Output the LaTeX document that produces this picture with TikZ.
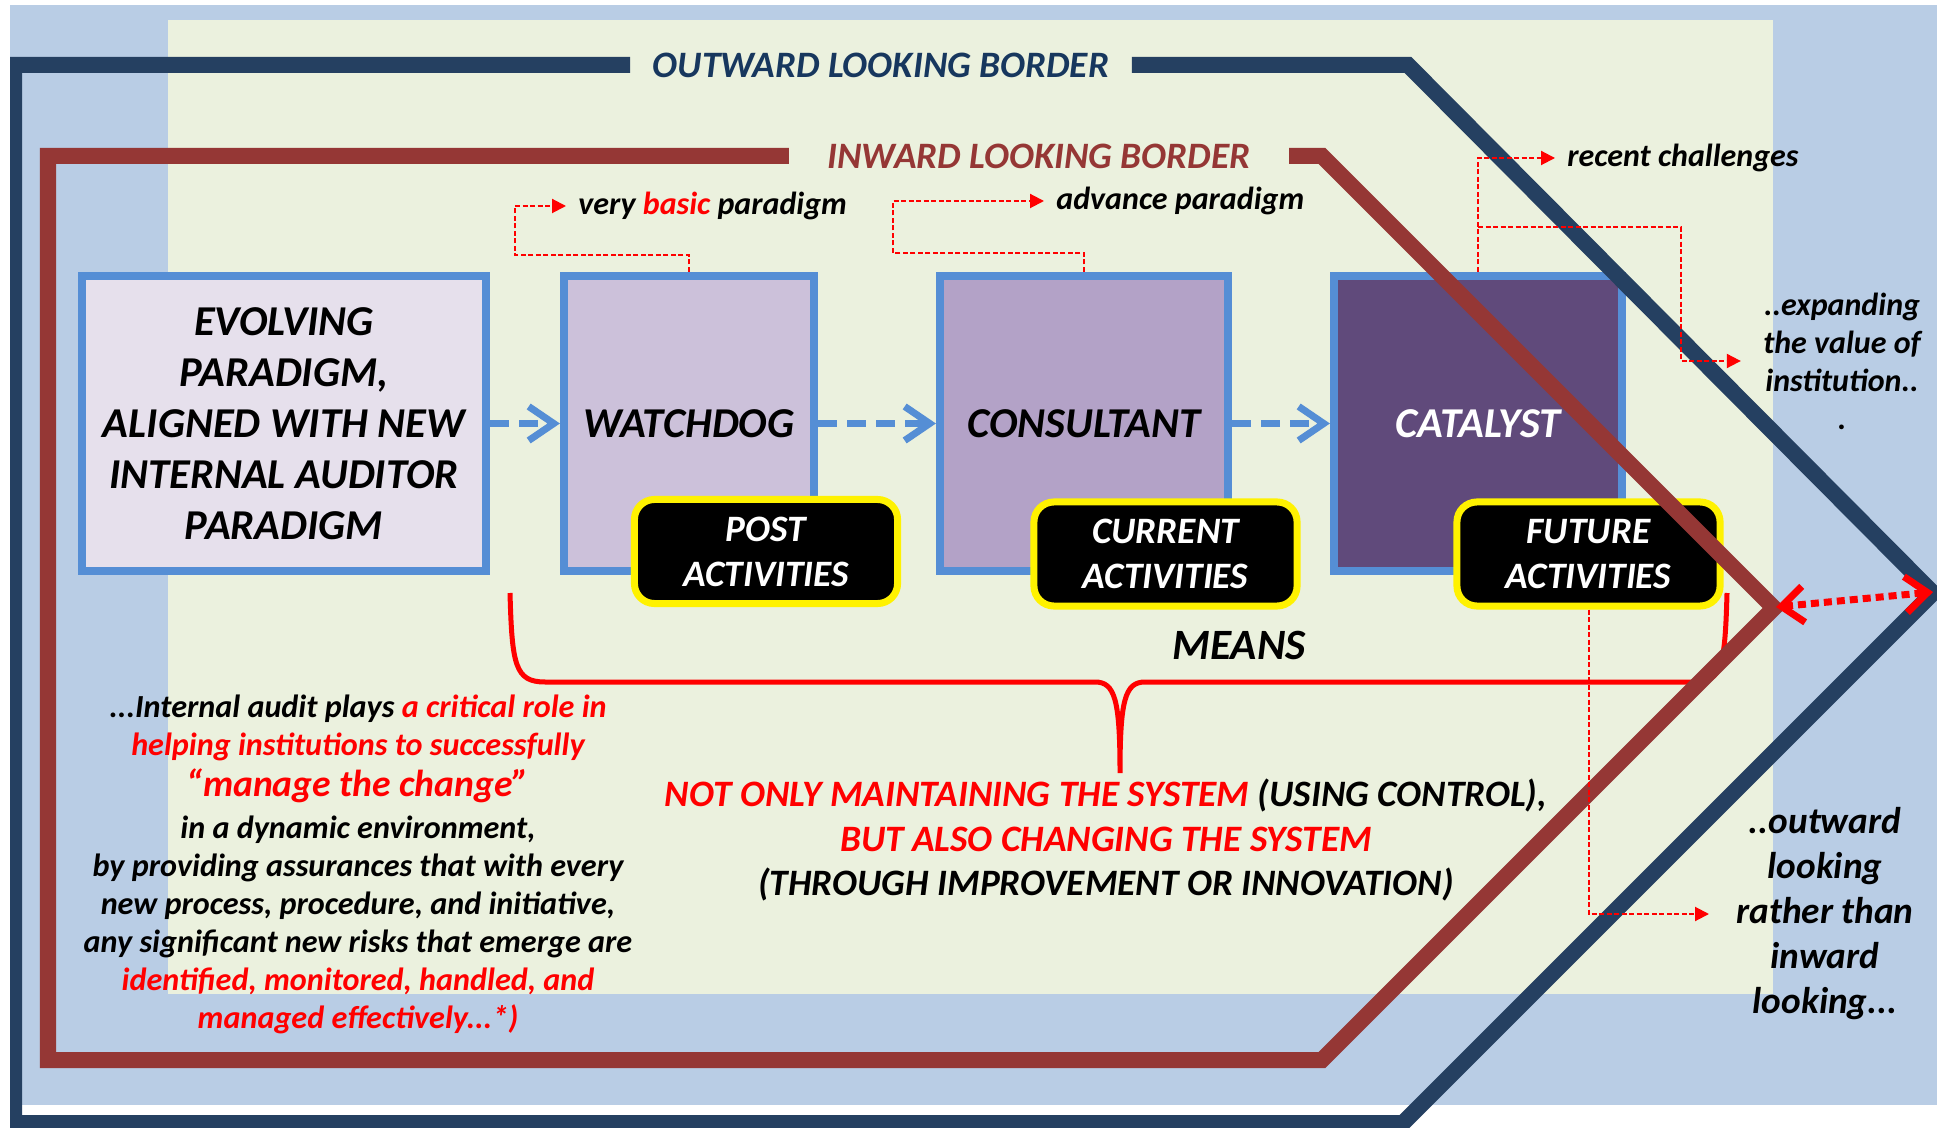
\documentclass[tikz,border=0pt]{standalone}
\usepackage{fontspec}
\setmainfont{Carlito}
\usetikzlibrary{arrows.meta}

\definecolor{skyback}{HTML}{B9CDE5}
\definecolor{creamback}{HTML}{EBF1DE}
\definecolor{navyline}{HTML}{254061}
\definecolor{navytext}{HTML}{17375E}
\definecolor{brownline}{HTML}{953735}
\definecolor{stageblue}{HTML}{558ED5}
\definecolor{stageA}{HTML}{E6E0EC}
\definecolor{stageB}{HTML}{CCC1DA}
\definecolor{stageC}{HTML}{B3A2C7}
\definecolor{stageD}{HTML}{604A7B}

\tikzset{
  stage/.style={draw=stageblue,line width=0.08cm,minimum height=2.95cm,align=center,
    font=\fontsize{12.1}{14.5}\selectfont\bfseries\itshape},
  act/.style={draw=yellow,fill=black,line width=0.07cm,rounded corners=0.2cm,text=white,
    align=center,minimum width=2.63cm,minimum height=1.04cm,
    font=\fontsize{10.6}{12.8}\selectfont\bfseries\itshape},
  flow/.style={stageblue,line width=0.07cm,dash pattern=on 0.19cm off 0.1cm,
    -{Straight Barb[length=0.25cm,width=0.34cm]}},
  note/.style={red,line width=0.02cm,dash pattern=on 0.05cm off 0.025cm,
    -{Triangle[length=0.14cm,width=0.14cm]}},
  reach/.style={red,line width=0.07cm,dash pattern=on 0.08cm off 0.05cm,
    {Straight Barb[length=0.22cm,width=0.36cm]}-{Straight Barb[length=0.22cm,width=0.36cm]}},
  border/.style={line width=0.16cm},
  borderlbl/.style={font=\fontsize{10.6}{12}\selectfont\bfseries\itshape},
  lbl/.style={font=\fontsize{9.1}{10.8}\selectfont\bfseries\itshape,align=center},
  story/.style={font=\fontsize{9.15}{10.8}\selectfont\bfseries\itshape,align=center}
}

\begin{document}
\begin{tikzpicture}[x=0.01cm,y=-0.01cm]
\useasboundingbox (0,0) rectangle (1937,1128);
\fill[skyback] (10,5) rectangle (1937,1105);
\fill[creamback] (168,20) rectangle (1773,994);

\draw[red,line width=0.05cm] (510,593) .. controls (512,665) and (515,682) .. (545,682)
  -- (1095,682) .. controls (1115,682) and (1120,700) .. (1120,773)
  .. controls (1120,700) and (1125,682) .. (1145,682)
  -- (1695,682) .. controls (1722,682) and (1725,665) .. (1727,593);

\node[stage,fill=stageA,minimum width=4.04cm] (evolving) at (284,423.5)
  {EVOLVING\\ PARADIGM,\\ ALIGNED WITH NEW\\ INTERNAL AUDITOR\\ PARADIGM};
\node[stage,fill=stageB,minimum width=2.5cm] (watchdog) at (689,423.5) {WATCHDOG};
\node[stage,fill=stageC,minimum width=2.88cm] (consultant) at (1084,423.5) {CONSULTANT};
\node[stage,fill=stageD,minimum width=2.88cm,text=white] (catalyst) at (1478,423.5) {CATALYST};

\draw[flow] (evolving) -- (watchdog);
\draw[flow] (watchdog) -- (consultant);
\draw[flow] (consultant) -- (catalyst);

\node[act] (post) at (766,551.5) {POST\\ ACTIVITIES};
\node[act] (current) at (1165.5,554) {CURRENT\\ ACTIVITIES};
\node[act] (future) at (1588.5,554) {FUTURE\\ ACTIVITIES};

\node[font=\fontsize{12.3}{14}\selectfont\bfseries\itshape] (means) at (1239,645) {MEANS};

\node[borderlbl,text=navytext,inner xsep=0.22cm] (outlbl) at (881,65) {OUTWARD LOOKING BORDER};
\node[borderlbl,text=brownline,inner xsep=0.38cm] (inlbl) at (1039,156) {INWARD LOOKING BORDER};

\begin{scope}
\clip (10,0) rectangle (1937,1128);
\draw[border,navyline] (outlbl.west) -- (14,65) -- (14,1123) -- (1403,1123)
  -- (1933,593) -- (1408,65) -- (outlbl.east);
\end{scope}
\draw[border,brownline] (inlbl.west) -- (48,156) -- (48,1060) -- (1322,1060)
  -- (1774,608) -- (1322,156) -- (inlbl.east);

\coordinate (intip) at (1776,607);
\coordinate (outtip) at (1933,592);
\draw[reach] (intip) -- (outtip);

\node[lbl,anchor=west] (basic) at (566,206) {very \textcolor{red}{basic} paradigm};
\node[lbl,anchor=west] (advance) at (1044,201) {advance paradigm};
\node[lbl,anchor=west] (recent) at (1555,158) {recent challenges};
\node[lbl] (expand) at (1842,361) {..expanding\\ the value of\\ institution..\\ .};
\node[font=\fontsize{10.6}{12.8}\selectfont\bfseries\itshape,align=center] (outlook) at (1825,914)
  {..outward\\ looking\\ rather than\\ inward\\ looking...};

\path (catalyst.north) ++(0,-45) coordinate (fork);
\draw[note] (watchdog.north) |- (515,255) |- (basic.west);
\draw[note] (consultant.north) |- (893,253) |- (advance.west);
\draw[note] (catalyst.north) |- (recent.west);
\draw[note] (fork) -| (1681,300) |- ([xshift=-0.1cm]expand.west);
\draw[note] (future.south) |- ([xshift=-0.15cm]outlook.west);

\node[story] (audit) at (358,864)
  {...Internal audit plays \textcolor{red}{a critical role in}\\
   \textcolor{red}{helping institutions to successfully}\\[1pt]
   {\fontsize{10.7}{12}\selectfont\color{red}“manage the change”}\\[1pt]
   in a dynamic environment,\\
   by providing assurances that with every\\
   new process, procedure, and initiative,\\
   any significant new risks that emerge are\\
   \textcolor{red}{identified, monitored, handled, and}\\
   \textcolor{red}{managed effectively...*)}};

\node[font=\fontsize{10.6}{12.7}\selectfont\bfseries\itshape,align=center] (system) at (1106,840)
  {\textcolor{red}{NOT ONLY MAINTAINING THE SYSTEM} (USING CONTROL),\\
   \textcolor{red}{BUT ALSO CHANGING THE SYSTEM}\\
   (THROUGH IMPROVEMENT OR INNOVATION)};
\end{tikzpicture}
\end{document}
